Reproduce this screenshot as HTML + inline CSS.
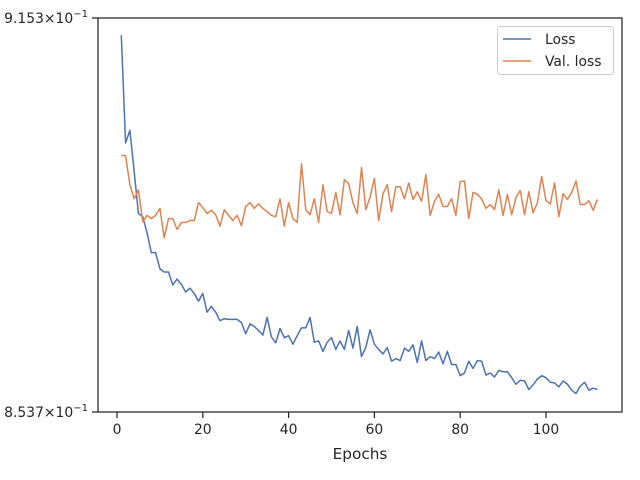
<!DOCTYPE html>
<html><head><meta charset="utf-8"><style>
body{margin:0;background:#fff}
svg{display:block;font-family:"DejaVu Sans","Liberation Sans",sans-serif}
</style></head><body>
<svg id="chart" width="640" height="480" viewBox="0 0 640 480"></svg>
<script>
const epochs = Array.from({length:112},(_,i)=>i+1);
const lossValues = [9125,8953,8973,8908,8842,8837,8812,8781,8781,8756,8751,8751,8731,8740,8732,8720,8726,8718,8706,8718,8689,8698,8689,8676,8679,8678,8678,8678,8673,8656,8671,8667,8661,8654,8681,8651,8642,8664,8650,8653,8640,8653,8665,8665,8681,8643,8645,8629,8643,8650,8632,8645,8632,8661,8634,8667,8621,8635,8662,8640,8632,8625,8635,8614,8618,8615,8634,8629,8639,8612,8645,8615,8621,8618,8628,8610,8629,8609,8609,8592,8596,8614,8603,8615,8614,8593,8596,8590,8600,8598,8598,8589,8579,8585,8584,8571,8578,8587,8592,8589,8582,8581,8575,8584,8579,8570,8565,8576,8582,8570,8573,8571];
const valLossValues = [8933,8933,8887,8865,8879,8829,8839,8834,8839,8850,8804,8834,8834,8817,8828,8828,8831,8831,8859,8851,8842,8847,8840,8822,8848,8839,8831,8839,8823,8853,8859,8850,8857,8850,8845,8839,8837,8865,8822,8859,8834,8828,8920,8848,8840,8865,8828,8887,8845,8842,8875,8840,8895,8889,8859,8842,8914,8848,8868,8897,8831,8873,8887,8845,8884,8884,8865,8890,8864,8876,8861,8903,8839,8861,8872,8853,8853,8865,8839,8892,8893,8834,8875,8872,8865,8850,8856,8848,8879,8839,8872,8840,8867,8878,8840,8876,8843,8859,8900,8862,8857,8890,8837,8873,8864,8875,8893,8856,8856,8862,8847,8864];
const xTicks = [0,20,40,60,80,100];
const yTickLabels = [["9.153","0.9153"],["8.537","0.8537"]];
const yMin = 0.8537, yMax = 0.9153;

const NS="http://www.w3.org/2000/svg";
const svg=document.getElementById('chart');
const L=98,R=622,T=18,B=412;
const x0=-4.43,x1=117.72;
const sx=v=>L+(v-x0)/(x1-x0)*(R-L);
const sy=v=>B-(Math.log(v)-Math.log(yMin))/(Math.log(yMax)-Math.log(yMin))*(B-T);
function mk(tag,attrs,parent){const e=document.createElementNS(NS,tag);for(const k in attrs)e.setAttribute(k,attrs[k]);(parent||svg).appendChild(e);return e;}

// series
function series(vals,color,name){
  const d=vals.map((v,i)=>(i?'L':'M')+sx(epochs[i]).toFixed(2)+','+sy(v/10000).toFixed(2)).join('');
  const p=mk('path',{d:d,fill:'none',stroke:color,'stroke-width':1.5,'stroke-linejoin':'round'});
  
  
}
series(lossValues,'#4c72b0','loss-line');
series(valLossValues,'#dd8452','val-loss-line');

// frame
const fr=mk('rect',{x:L,y:T,width:R-L,height:B-T,fill:'none',stroke:'#262626','stroke-width':1.25});



// x ticks
xTicks.forEach(t=>{
  const X=sx(t);
  const tk=mk('line',{x1:X,x2:X,y1:B,y2:B+6,stroke:'#262626','stroke-width':1.25});
  
  
  const tx=mk('text',{x:X,y:B+22,'text-anchor':'middle','font-size':13.9,fill:'#262626'});
  tx.textContent=t;
  
  
});

// y ticks
[[yMax,0],[yMin,1]].forEach(([v,i])=>{
  const Y=sy(v);
  const tk=mk('line',{x1:L-6,x2:L,y1:Y,y2:Y,stroke:'#262626','stroke-width':1.25});
  
  
  const tx=mk('text',{x:88,y:Y+5,'text-anchor':'end','font-size':13.9,fill:'#262626'});
  
  
  const a=mk('tspan',{},tx);a.textContent=yTickLabels[i][0]+'×10';
  const s=mk('tspan',{dy:-6,'font-size':10},tx);s.textContent='−1';
});

// x label
const xl=mk('text',{x:360,y:459,'text-anchor':'middle','font-size':15.3,fill:'#262626'});
xl.textContent='Epochs';



// legend
const lg=mk('g',{});


mk('rect',{x:497.5,y:26.5,width:116,height:48,rx:3,fill:'#fff','fill-opacity':0.8,stroke:'#cccccc'},lg);
[['Loss','#4c72b0',39],['Val. loss','#dd8452',61]].forEach(([n,c,y])=>{
  const e=mk('g',{},lg);
  
  
  mk('line',{x1:503,x2:531,y1:y,y2:y,stroke:c,'stroke-width':1.5},e);
  const t=mk('text',{x:545,y:y+5,'font-size':13.9,fill:'#262626'},e);t.textContent=n;
});
</script>
</body></html>
